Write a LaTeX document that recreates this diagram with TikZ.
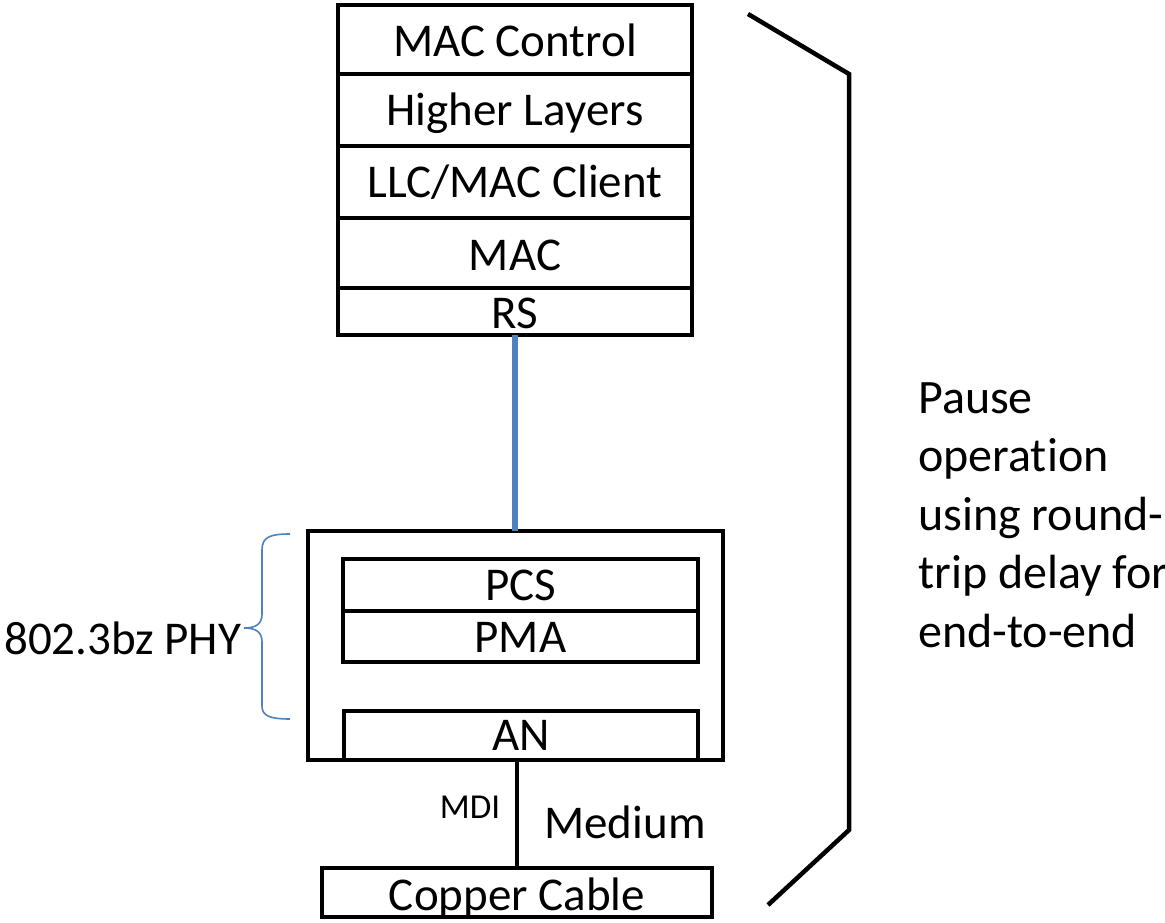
\documentclass[tikz,border=0pt]{standalone}
\usepackage{fontspec}
\setmainfont{Carlito}[Ligatures=NoCommon]
\definecolor{linkblue}{RGB}{79,129,189}
\begin{document}
\begin{tikzpicture}[x=1pt,y=-1pt,
  box/.style={draw, line width=4.5pt, inner sep=0pt, outer sep=0pt},
  lbl/.style={anchor=base, inner sep=0pt, font=\fontsize{47}{56}\selectfont},
  small/.style={anchor=base, inner sep=0pt, font=\fontsize{35}{42}\selectfont},
  side/.style={anchor=base west, inner sep=0pt, font=\fontsize{48}{58}\selectfont}]
\useasboundingbox (0,0) rectangle (1165,923);

% upper protocol stack
\node[box, minimum width=354pt, minimum height=69pt] (mctl) at (515,39.5) {};
\node[box, minimum width=354pt, minimum height=72pt] (hl)   at (515,110) {};
\node[box, minimum width=354pt, minimum height=72pt] (llc)  at (515,182) {};
\node[box, minimum width=354pt, minimum height=70pt] (mac)  at (515,253) {};
\node[box, minimum width=354pt, minimum height=47pt] (rs)   at (515,311.5) {};
\node[lbl] (tmctl) at (515,57)  {MAC Control};
\node[lbl] (thl)   at (515,126) {Higher Layers};
\node[lbl] (tllc)  at (515,197) {LLC/MAC Client};
\node[lbl] (tmac)  at (515,270) {MAC};
\node[lbl] (trs)   at (515,328) {RS};

% PHY
\node[box, line width=3.5pt, minimum width=415pt, minimum height=229pt] (phy) at (515.5,645.5) {};
\node[box, minimum width=355pt, minimum height=52pt] (pcs) at (520.5,585) {};
\node[box, minimum width=355pt, minimum height=51pt] (pma) at (520.5,636.5) {};
\node[box, minimum width=354pt, minimum height=49pt] (an)  at (521,735.5) {};
\node[lbl] (tpcs) at (520.5,600) {PCS};
\node[lbl] (tpma) at (520.5,652) {PMA};
\node[lbl] (tan)  at (521,750)   {AN};

% medium
\node[box, minimum width=390pt, minimum height=49pt] (cable) at (517,892.5) {};
\node[lbl] (tcable) at (517,910) {Copper Cable};
\node[small] (mdi) at (470,818) {MDI};
\node[lbl] (medium) at (625,838) {Medium};

% connectors
\draw[linkblue, line width=6pt] (rs.south) -- (rs.south |- phy.north);
\draw[line width=4pt] (cable.north) -- (cable.north |- phy.south);

% PHY brace
\draw[linkblue, line width=1.6pt]
  (290,534) .. controls (270,534) and (262,537) .. (262,550) -- (262,614)
  .. controls (262,624) and (256,628) .. (244,628)
  .. controls (256,628) and (262,632) .. (262,642) -- (262,706)
  .. controls (262,716) and (270,719) .. (290,719);
\node[side, font=\fontsize{47}{56}\selectfont] (phylbl) at (4,654) {802.3bz PHY};

% end-to-end bracket
\coordinate (b1) at (748,14);
\coordinate (b2) at (849,74);
\coordinate (b3) at (849,830);
\coordinate (b4) at (768,905);
\draw[line width=4.5pt] (b1) -- (b2) -- (b3) -- (b4);

\node[side] (p1) at (918,413)   {Pause};
\node[side] (p2) at (918,471.5) {operation};
\node[side] (p3) at (918,530)   {using round-};
\node[side] (p4) at (918,588.5) {trip delay for};
\node[side] (p5) at (918,647)   {end-to-end};
\end{tikzpicture}
\end{document}
